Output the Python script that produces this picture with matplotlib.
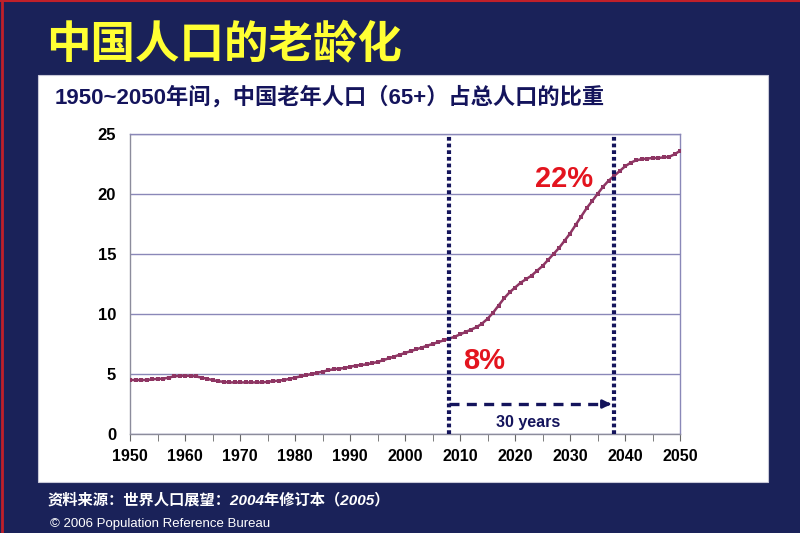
import matplotlib
matplotlib.use("Agg")

import matplotlib.pyplot as plt
import matplotlib.patches as mpatches
from matplotlib.lines import Line2D

# ---------------------------------------------------------------------------
# Data: share of population aged 65+ in China (%)
# ---------------------------------------------------------------------------
years = list(range(1950, 2051))
share_65 = [
    4.5, 4.5, 4.5, 4.5, 4.55, 4.6, 4.6, 4.7, 4.8, 4.85,      # 1950s
    4.85, 4.85, 4.8, 4.7, 4.6, 4.5, 4.4, 4.35, 4.3, 4.3,     # 1960s
    4.3, 4.3, 4.3, 4.3, 4.3, 4.35, 4.4, 4.45, 4.5, 4.6,      # 1970s
    4.7, 4.8, 4.9, 5.0, 5.1, 5.2, 5.3, 5.4, 5.45, 5.5,       # 1980s
    5.6, 5.7, 5.75, 5.8, 5.9, 6.0, 6.15, 6.3, 6.45, 6.6,     # 1990s
    6.75, 6.9, 7.05, 7.2, 7.35, 7.5, 7.65, 7.8, 7.95, 8.1,   # 2000s
    8.3, 8.5, 8.7, 8.9, 9.2, 9.6, 10.1, 10.7, 11.3, 11.8,    # 2010s
    12.2, 12.6, 12.9, 13.2, 13.6, 14.0, 14.5, 15.0, 15.5, 16.1,  # 2020s
    16.7, 17.4, 18.1, 18.8, 19.4, 20.0, 20.6, 21.1, 21.5, 21.9,  # 2030s
    22.3, 22.6, 22.8, 22.9, 22.95, 23.0, 23.0, 23.05, 23.1, 23.3,  # 2040s
    23.6,
]
marker_years = [2008, 2038]
span_label = "30 years"
start_label = "8%"
end_label = "22%"

title = "中国人口的老龄化"
subtitle = "1950~2050年间，中国老年人口（65+）占总人口的比重"
source = "资料来源：世界人口展望：2004年修订本（2005）"
credit = "© 2006 Population Reference Bureau"

# ---------------------------------------------------------------------------
# Theme
# ---------------------------------------------------------------------------
_BG = "#1a2259"
_NAVY = "#14145c"
_LINE = "#8e3563"
_GRID = "#8a88b8"
_RED = "#e3141e"
_LATIN_CJK = ["Liberation Sans", "Noto Sans CJK SC", "DejaVu Sans"]
plt.rcParams["font.family"] = _LATIN_CJK

fig = plt.figure(figsize=(8, 5.33), dpi=100)
fig.set_facecolor(_BG)

# white panel + thin red frame on the slide edge
fig.patches.append(mpatches.Rectangle((0.0475, 0.0957), 0.9125, 0.7636,
                                      transform=fig.transFigure, facecolor="white",
                                      edgecolor="#c8c8d8", linewidth=0.8, zorder=-5))
fig.add_artist(Line2D([0.002, 0.002], [0, 1], transform=fig.transFigure,
                      color="#c0202a", linewidth=2))
fig.add_artist(Line2D([0, 1], [0.998, 0.998], transform=fig.transFigure,
                      color="#c0202a", linewidth=1.5))

fig.text(0.058, 0.915, title, color="#ffff33", fontsize=32, fontweight="bold",
         va="center", ha="left", family=["Noto Sans CJK SC"])
fig.text(0.068, 0.818, subtitle, color=_NAVY, fontsize=16, fontweight="bold",
         va="center", ha="left", family=_LATIN_CJK)
fig.text(0.06, 0.062, source, color="white", fontsize=11, fontweight="bold",
         fontstyle="italic", va="center", ha="left", family=_LATIN_CJK)
fig.text(0.062, 0.017, credit, color="white", fontsize=9.5,
         va="center", ha="left", family=["Liberation Sans Narrow", "Liberation Sans"])

# ---------------------------------------------------------------------------
# Chart
# ---------------------------------------------------------------------------
ax = fig.add_axes([0.1625, 0.1857, 0.6875, 0.5629])
ax.set_facecolor("white")

ax.plot(years, share_65, color=_LINE, linewidth=1.8, marker="s", markersize=2.8,
        markeredgewidth=0, zorder=3)

ax.set_xlim(1950, 2050)
ax.set_ylim(0, 25)
ax.set_xticks(range(1950, 2051, 10))
ax.set_xticks(range(1950, 2051, 5), minor=True)
ax.set_yticks(range(0, 26, 5))
ax.tick_params(axis="x", which="both", direction="out", length=5, color="#666666",
               labelsize=11.5, pad=6)
ax.tick_params(axis="y", length=0, labelsize=12, pad=10)
for lab in ax.get_xticklabels() + ax.get_yticklabels():
    lab.set_fontweight("bold")

ax.grid(axis="y", color=_GRID, linewidth=1.0)
for side, spine in ax.spines.items():
    spine.set_color(_GRID if side in ("top", "right") else "#8c8c9c")
    spine.set_linewidth(1.0)

# vertical dotted markers for 2008 and 2038
for yr in marker_years:
    ax.plot([yr, yr], [0, 24.8], color=_NAVY, linewidth=3.0,
            linestyle=(0, (0.9, 0.7)), zorder=4, clip_on=False)

# dashed span arrow
ax.plot([marker_years[0], marker_years[1] - 1.2], [2.5, 2.5], color=_NAVY,
        linewidth=2.4, linestyle=(0, (3, 2.2)), zorder=4)
ax.annotate("", xy=(marker_years[1], 2.5), xytext=(marker_years[1] - 1.6, 2.5),
            arrowprops=dict(arrowstyle="-|>", color=_NAVY, lw=2, mutation_scale=12),
            zorder=5)
ax.text(2022.4, 1.0, span_label, color=_NAVY, fontsize=11.5, fontweight="bold",
        ha="center", va="center")

ax.text(2014.4, 6.1, start_label, color=_RED, fontsize=21, fontweight="bold",
        ha="center", va="center")
ax.text(2028.9, 21.25, end_label, color=_RED, fontsize=21, fontweight="bold",
        ha="center", va="center")

fig.savefig("out.png", dpi=100, facecolor=fig.get_facecolor())
